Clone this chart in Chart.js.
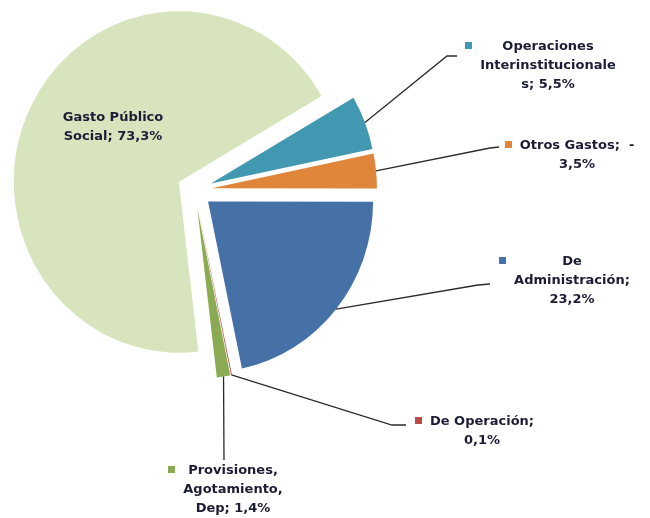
<!DOCTYPE html>
<html lang="es">
<head>
<meta charset="utf-8">
<title>Composición del gasto</title>
<script src="https://cdn.jsdelivr.net/npm/chart.js@4.4.1/dist/chart.umd.min.js"></script>
<style>
  html, body { margin: 0; padding: 0; background: #fff; }
  #chart { display: block; }
</style>
</head>
<body>
<canvas id="chart" width="650" height="518"></canvas>
<script>
// Composición del gasto: torta con sectores separados y etiquetas tipo Excel

const categories = [
    'Gasto Público Social',
    'Operaciones Interinstitucionales',
    'Otros Gastos',
    'De Administración',
    'De Operación',
    'Provisiones, Agotamiento, Dep'
];
const shares = [73.3, 5.5, -3.5, 23.2, 0.1, 1.4];   // % as printed on the labels
const sliceColors = ['#d7e4bd', '#4298b0', '#df863b', '#4571a7', '#bb4b48', '#8aab52'];

// label text, wrapped the way the original wraps it
const labelLines = [
    ['Gasto Público', 'Social; 73,3%'],
    ['Operaciones', 'Interinstitucionale', 's; 5,5%'],
    ['Otros Gastos;  -', '3,5%'],
    ['De', 'Administración;', '23,2%'],
    ['De Operación;', '0,1%'],
    ['Provisiones,', 'Agotamiento,', 'Dep; 1,4%']
];

// where each label sits (centre of first line) and the bends of its leader
const labelSpots = [
    { x: 113, y: 118, key: false, leader: [] },
    { x: 548, y: 47, key: true, leader: [[447, 56], [457, 56]] },
    { x: 577, y: 146, key: true, leader: [[490, 148], [499, 147]] },
    { x: 572, y: 262, key: true, leader: [[478, 285], [490, 284]] },
    { x: 482, y: 422, key: true, leader: [[392, 425], [406, 425]] },
    { x: 233, y: 471, key: true, leader: [[224, 460]] }
];

const LABEL_FONT = "bold 13px 'DejaVu Sans'";
const TEXT_COLOR = '#1c1c36';
const LINE_H = 19;
const STRETCH_Y = 1.035;   // the original pie is a touch taller than wide

function pieCentre(chart) {
    const a = chart.chartArea;
    return { x: (a.left + a.right) / 2, y: (a.top + a.bottom) / 2 };
}

// pull every slice out along its mid angle (Excel style explosion)
const explodePlugin = {
    id: 'explode',
    afterDatasetUpdate(chart, args, opts) {
        const d = opts.distance || 0;
        args.meta.data.forEach(arc => {
            const mid = (arc.startAngle + arc.endAngle) / 2;
            arc.x += Math.cos(mid) * d;
            arc.y += Math.sin(mid) * d;
        });
    },
    beforeDatasetsDraw(chart) {
        const c = pieCentre(chart);
        const ctx = chart.ctx;
        ctx.save();
        ctx.translate(c.x, c.y);
        ctx.scale(1, STRETCH_Y);
        ctx.translate(-c.x, -c.y);
    },
    afterDatasetsDraw(chart) {
        chart.ctx.restore();
    }
};

// data labels with legend key and leader lines
const calloutPlugin = {
    id: 'callouts',
    afterDraw(chart) {
        const ctx = chart.ctx;
        const c = pieCentre(chart);
        const arcs = chart.getDatasetMeta(0).data;
        ctx.save();
        ctx.font = LABEL_FONT;
        ctx.textAlign = 'center';
        ctx.textBaseline = 'middle';
        arcs.forEach((arc, i) => {
            const spot = labelSpots[i];
            const lines = labelLines[i];
            if (spot.leader.length) {
                const mid = (arc.startAngle + arc.endAngle) / 2;
                const sx = arc.x + Math.cos(mid) * arc.outerRadius;
                const sy = c.y + (arc.y + Math.sin(mid) * arc.outerRadius - c.y) * STRETCH_Y;
                ctx.beginPath();
                ctx.moveTo(sx, sy);
                spot.leader.forEach(([x, y]) => ctx.lineTo(x, y));
                ctx.strokeStyle = '#2b2b2b';
                ctx.lineWidth = 1.3;
                ctx.stroke();
            }
            const widest = Math.max(...lines.map(l => ctx.measureText(l).width));
            if (spot.key) {
                ctx.fillStyle = sliceColors[i];
                ctx.fillRect(Math.round(spot.x - widest / 2 - 15), spot.y - 5, 7, 7);
            }
            ctx.fillStyle = TEXT_COLOR;
            lines.forEach((l, k) => ctx.fillText(l, spot.x, spot.y + k * LINE_H));
        });
        ctx.restore();
    }
};

new Chart(document.getElementById('chart'), {
    type: 'pie',
    data: {
        labels: categories,
        datasets: [{
            data: shares.map(v => Math.abs(v)),
            backgroundColor: sliceColors,
            borderWidth: 0
        }]
    },
    options: {
        responsive: false,
        animation: false,
        events: [],
        rotation: 173.2,
        radius: 165,
        layout: { padding: { left: 0, right: 261, top: 0, bottom: 138 } },
        plugins: {
            legend: { display: false },
            tooltip: { enabled: false },
            explode: { distance: 17.5 }
        }
    },
    plugins: [explodePlugin, calloutPlugin]
});
</script>
</body>
</html>
